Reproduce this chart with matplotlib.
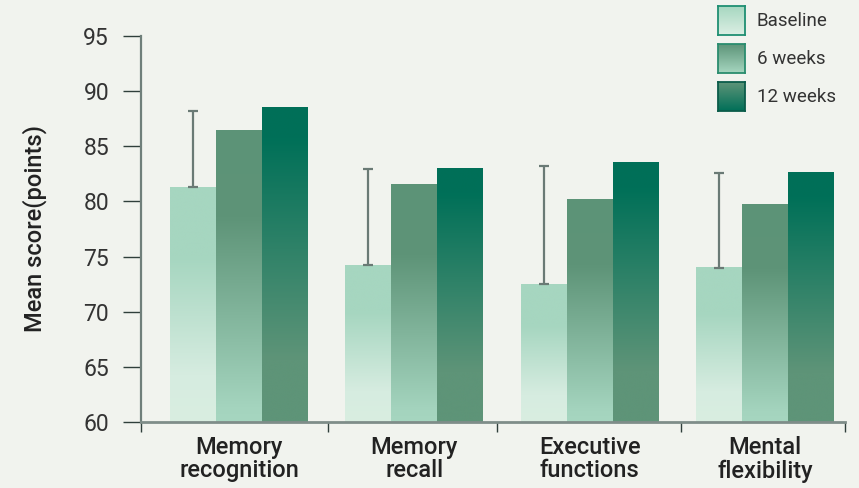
import numpy as np
import matplotlib
matplotlib.use("Agg")
import matplotlib.pyplot as plt
from matplotlib.colors import LinearSegmentedColormap

categories = ["Memory\nrecognition", "Memory\nrecall", "Executive\nfunctions", "Mental\nflexibility"]
series_names = ["Baseline", "6 weeks", "12 weeks"]
baseline = [81.3, 74.2, 72.5, 74.0]
week6 = [86.4, 81.5, 80.2, 79.7]
week12 = [88.5, 83.0, 83.5, 82.6]
baseline_err_top = [88.2, 82.9, 83.2, 82.6]
yticks = [60, 65, 70, 75, 80, 85, 90, 95]

plt.rcParams['font.family'] = ['Roboto', 'DejaVu Sans']
bg = "#f1f3ee"

# gradients, position 0 = bar bottom, 1 = bar top
cmaps = [
    LinearSegmentedColormap.from_list("b", [(0, "#d9eee1"), (0.2, "#d6ece0"), (0.7, "#a6d6c0"), (1, "#a6d6c0")]),
    LinearSegmentedColormap.from_list("w6", [(0, "#a6d6c0"), (0.05, "#a4d4be"), (0.7, "#5e9478"), (1, "#5c9377")]),
    LinearSegmentedColormap.from_list("w12", [(0, "#5e9478"), (0.2, "#5e9478"), (0.9, "#007058"), (1, "#006f58")]),
]

fig = plt.figure(figsize=(8.59, 4.88), dpi=100, facecolor=bg)
ax = fig.add_axes([141/859, 1 - 422/488, (845-141)/859, (422-36)/488])
ax.set_facecolor(bg)

x = np.arange(len(categories))
w = 0.262
grad = np.linspace(0, 1, 256).reshape(-1, 1)
for s, vals in enumerate([baseline, week6, week12]):
    for i, v in enumerate(vals):
        xc = x[i] + (s - 1) * w
        ax.imshow(grad, cmap=cmaps[s], origin="lower", aspect="auto",
                  extent=[xc - w/2, xc + w/2, 60, v], zorder=2, interpolation="bicubic")

# error bars on baseline (upper only)
yerr = [np.zeros(4), np.array(baseline_err_top) - np.array(baseline)]
ax.errorbar(x - w, baseline, yerr=yerr, fmt="none", ecolor="#6a7a75", elinewidth=1.6,
            capsize=3.8, capthick=1.6, zorder=3)

ax.set_xlim(-0.559, 3.457)
ax.set_ylim(60, 95)
ax.set_yticks(yticks)
ax.set_yticklabels([str(t) for t in yticks], fontsize=16.5, color="#333333")
ax.tick_params(axis="y", length=13, width=1, color="#2f3f3b", pad=10)
ax.set_xticks([-0.559, 0.508, 1.472, 2.521, 3.457])
ax.set_xticklabels([])
ax.tick_params(axis="x", length=7, width=1, color="#2f3f3b")
for i, c in enumerate(categories):
    ax.text(x[i], 58.7, c, ha="center", va="top", fontsize=17, fontweight="medium",
            color="#222222", linespacing=1.0, transform=ax.transData)

for sp in ["top", "right"]:
    ax.spines[sp].set_visible(False)
ax.spines["left"].set_color("#6f7f7a")
ax.spines["left"].set_linewidth(1.6)
ax.spines["bottom"].set_color("#7f8d89")
ax.spines["bottom"].set_linewidth(2)
ax.spines["bottom"].set_zorder(4)
ax.set_ylabel("Mean score(points)", fontsize=17, fontweight="medium", color="#222222", labelpad=26)

# legend squares with gradients
leg_cmaps = [
    LinearSegmentedColormap.from_list("lb", ["#dcefe4", "#a6d7c0"]),
    LinearSegmentedColormap.from_list("l6", ["#a6d6c0", "#5d9478"]),
    LinearSegmentedColormap.from_list("l12", ["#006f58", "#5e9478"]),
]
edges = ["#1f8f72", "#2a8c6e", "#0b5c4a"]
tops = [6, 44, 82]
for k, name in enumerate(series_names):
    lax = fig.add_axes([718/859, 1 - (tops[k] + 29)/488, 27/859, 29/488])
    lax.imshow(grad, cmap=leg_cmaps[k], origin="lower", aspect="auto", extent=[0, 1, 0, 1])
    lax.set_xticks([])
    lax.set_yticks([])
    for sp in lax.spines.values():
        sp.set_color(edges[k])
        sp.set_linewidth(1.3)
    fig.text(757/859, 1 - (tops[k] + 15)/488, name, fontsize=13.5, color="#333333", va="center")

fig.savefig("out.png", dpi=100, facecolor=bg)
